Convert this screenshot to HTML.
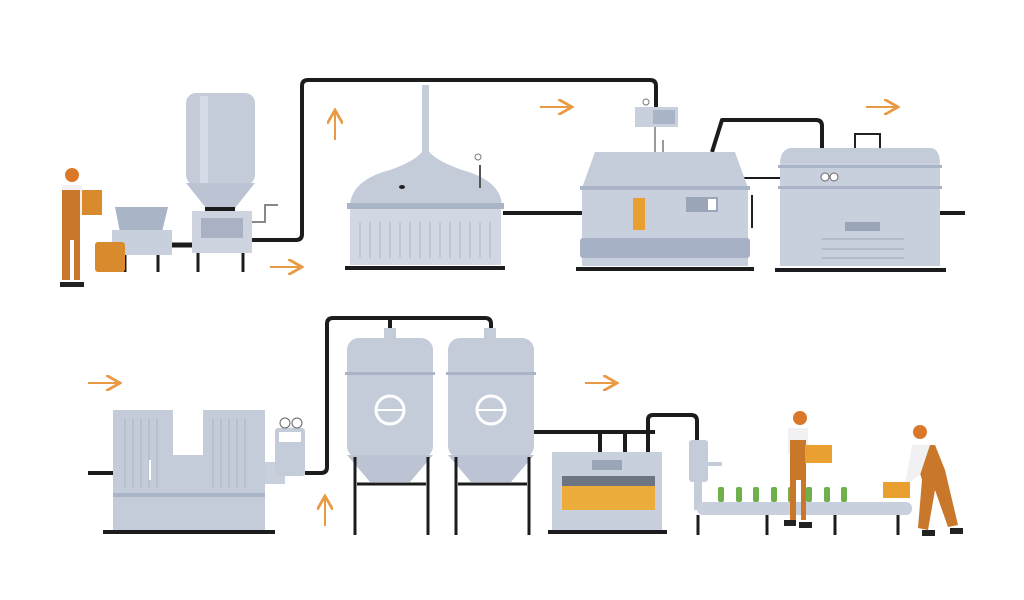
<!DOCTYPE html>
<html><head><meta charset="utf-8"><style>html,body{margin:0;padding:0;background:#fff}svg{display:block}</style></head><body>
<svg width="1024" height="600" viewBox="0 0 1024 600" xmlns="http://www.w3.org/2000/svg">
<defs>
<marker id="ah" markerWidth="8" markerHeight="8" refX="6" refY="4" orient="auto"><path d="M0,0 L7,4 L0,8" fill="none" stroke="#e89a45" stroke-width="1.4"/></marker>
</defs>
<rect width="1024" height="600" fill="#fff"/>
<g fill="none" stroke="#1c1c1e" stroke-width="4" stroke-linejoin="round">
<path d="M252,240 H296 Q302,240 302,234 V86 Q302,80 308,80 H650 Q656,80 656,86 V108"/>
<path d="M503,213 H583"/>
<path d="M712,152 L722,120 H816 Q822,120 822,126 V150"/>
<path d="M940,213 H965"/>
<path d="M88,473 H113"/>
<path d="M305,473 H321 Q327,473 327,467 V324 Q327,318 333,318 H485 Q491,318 491,324 V338"/>
<path d="M390,318 V338"/>
<path d="M533,432 H655"/>
<path d="M600,432 V452 M625,432 V452"/>
<path d="M648,452 V420 Q648,415 653,415 H691 Q697,415 697,421 V440"/>
</g>
<path d="M740,178 H782" stroke="#1c1c1e" stroke-width="2"/>
<g stroke="#e89a45" stroke-width="2" fill="none" marker-end="url(#ah)">
<path d="M270,267 H300"/><path d="M335,140 V112"/><path d="M540,107 H570"/><path d="M866,107 H896"/>
<path d="M88,383 H118"/><path d="M325,526 V498"/><path d="M585,383 H615"/>
</g>
<!-- floors -->
<g stroke="#1c1c1e" stroke-width="4">
<path d="M345,268 H505"/><path d="M576,269 H754"/><path d="M775,270 H946"/><path d="M103,532 H275"/><path d="M548,532 H667"/>
</g>
<!-- hopper small -->
<path d="M115,207 H168 L162,232 H120 Z" fill="#a9b4c7"/>
<rect x="112" y="230" width="60" height="25" fill="#c9d0dd"/>
<path d="M172,245 H192" stroke="#1c1c1e" stroke-width="5"/>
<g stroke="#1c1c1e" stroke-width="3"><path d="M125,255 V272 M158,255 V272 M198,253 V272 M243,253 V272"/></g>
<!-- silo -->
<rect x="186" y="93" width="69" height="92" rx="10" fill="#c4ccda"/>
<rect x="200" y="96" width="8" height="88" fill="#d6dce7"/>
<path d="M186,183 H255 L235,208 H206 Z" fill="#bcc4d3"/>
<rect x="205" y="207" width="30" height="4" fill="#1c1c1e"/>
<rect x="192" y="211" width="60" height="42" fill="#cdd3df"/>
<rect x="201" y="218" width="42" height="20" fill="#a8b2c4"/>
<path d="M252,222 H265 V205 H278" stroke="#888" stroke-width="2" fill="none"/>
<!-- worker 1 -->
<rect x="95" y="242" width="30" height="30" rx="3" fill="#d88a2c"/>
<circle cx="72" cy="175" r="7" fill="#d9782a"/>
<rect x="62" y="185" width="20" height="30" fill="#f1f1f3"/>
<path d="M62,190 H80 V280 H74 V240 H70 V280 H62 Z" fill="#c9772b"/>
<rect x="82" y="190" width="20" height="25" fill="#d88a2c"/>
<path d="M60,282 H72 V287 H60 Z M72,282 H84 V287 H72Z" fill="#222"/>
<!-- kettle -->
<rect x="422" y="85" width="7" height="70" fill="#c4ccda"/>
<path d="M350,205 Q352,180 390,170 Q418,160 423,150 H428 Q434,160 462,170 Q500,180 502,205 Z" fill="#c4ccda"/>
<rect x="347" y="203" width="157" height="6" fill="#a9b4c7"/>
<rect x="350" y="209" width="151" height="56" fill="#d2d8e3"/>
<g stroke="#b8c1d0" stroke-width="1.5"><path d="M360,222 V258 M370,222 V258 M380,222 V258 M390,222 V258 M400,222 V258 M410,222 V258 M420,222 V258 M430,222 V258 M440,222 V258 M450,222 V258 M460,222 V258 M470,222 V258 M480,222 V258 M490,222 V258"/></g>
<ellipse cx="402" cy="187" rx="3" ry="2" fill="#222"/>
<path d="M480,165 V188" stroke="#555" stroke-width="2"/><circle cx="478" cy="157" r="3" fill="none" stroke="#777"/>
<!-- mash tun -->
<rect x="635" y="107" width="43" height="20" fill="#c9d0dd"/><rect x="653" y="110" width="22" height="14" fill="#a9b4c7"/>
<circle cx="646" cy="102" r="3" fill="none" stroke="#777"/>
<path d="M655,127 V152 M663,140 V152" stroke="#999" stroke-width="2"/>
<path d="M595,152 H735 L748,188 H582 Z" fill="#c4ccda"/>
<rect x="582" y="186" width="166" height="80" fill="#c9d0dd"/>
<rect x="580" y="186" width="170" height="4" fill="#a9b4c7"/>
<rect x="580" y="238" width="170" height="20" rx="3" fill="#a6b1c5"/>
<rect x="633" y="198" width="12" height="32" fill="#e9a030"/>
<rect x="686" y="197" width="32" height="15" fill="#9aa5b8"/><rect x="708" y="199" width="8" height="11" fill="#fff"/>
<path d="M752,195 V228" stroke="#222" stroke-width="2"/>
<!-- last tank -->
<path d="M855,148 V134 H880 V148" fill="none" stroke="#222" stroke-width="2"/>
<path d="M790,148 H932 Q940,150 940,165 H780 Q780,150 790,148 Z" fill="#c4ccda"/>
<rect x="780" y="163" width="160" height="103" fill="#c9d0dd"/>
<rect x="778" y="165" width="164" height="3" fill="#a9b4c7"/><rect x="778" y="186" width="164" height="3" fill="#a9b4c7"/>
<circle cx="825" cy="177" r="4" fill="#fff" stroke="#666"/><circle cx="834" cy="177" r="4" fill="#fff" stroke="#666"/>
<rect x="845" y="222" width="35" height="9" fill="#9aa5b8"/>
<g stroke="#a9b4c7" stroke-width="1.5"><path d="M822,239 H904 M822,249 H904 M822,258 H904"/></g>
<!-- filter machine -->
<path d="M113,410 H173 V455 H203 V410 H265 V530 H113 Z" fill="#c4ccda"/>
<rect x="113" y="493" width="152" height="4" fill="#a9b4c7"/>
<g stroke="#b2bccc" stroke-width="1.5"><path d="M125,418 V488 M133,418 V488 M141,418 V488 M149,418 V488 M157,418 V488 M213,418 V488 M221,418 V488 M229,418 V488 M237,418 V488 M245,418 V488"/></g>
<path d="M150,460 V480" stroke="#fff" stroke-width="2"/>
<rect x="265" y="462" width="20" height="22" fill="#c9d0dd"/>
<rect x="275" y="428" width="30" height="48" rx="3" fill="#c4ccda"/>
<rect x="279" y="432" width="22" height="10" fill="#fff"/>
<circle cx="285" cy="423" r="5" fill="#fff" stroke="#666"/><circle cx="297" cy="423" r="5" fill="#fff" stroke="#666"/>
<!-- fermenters -->
<g>
<rect x="384" y="328" width="12" height="12" fill="#c4ccda"/><rect x="484" y="328" width="12" height="12" fill="#c4ccda"/>
<rect x="347" y="338" width="86" height="120" rx="12" fill="#c4ccda"/>
<path d="M347,455 H433 L410,482 H370 Z" fill="#bcc4d3"/>
<rect x="448" y="338" width="86" height="120" rx="12" fill="#c4ccda"/>
<path d="M448,455 H534 L511,482 H471 Z" fill="#bcc4d3"/>
<rect x="345" y="372" width="90" height="3" fill="#a9b4c7"/><rect x="446" y="372" width="90" height="3" fill="#a9b4c7"/>
<circle cx="390" cy="410" r="14" fill="none" stroke="#fff" stroke-width="3"/><path d="M377,410 H403" stroke="#fff" stroke-width="2"/>
<circle cx="491" cy="410" r="14" fill="none" stroke="#fff" stroke-width="3"/><path d="M478,410 H504" stroke="#fff" stroke-width="2"/>
<g stroke="#1c1c1e" stroke-width="3"><path d="M355,457 V535 M428,457 V535 M357,484 H426 M456,457 V535 M529,457 V535 M458,484 H527"/></g>
</g>
<!-- bottling box -->
<rect x="552" y="452" width="110" height="78" fill="#c9d0dd"/>
<rect x="592" y="460" width="30" height="10" fill="#9aa5b8"/>
<rect x="562" y="476" width="93" height="10" fill="#6d7482"/>
<rect x="562" y="486" width="93" height="24" fill="#ecac3c"/>
<!-- filler & conveyor -->
<rect x="689" y="440" width="19" height="42" rx="3" fill="#c4ccda"/>
<rect x="708" y="462" width="14" height="4" fill="#c4ccda"/>
<rect x="694" y="480" width="8" height="30" fill="#c4ccda"/>
<rect x="697" y="502" width="215" height="13" rx="6" fill="#c9d0dd"/>
<g stroke="#1c1c1e" stroke-width="3"><path d="M698,515 V535 M767,515 V535 M835,515 V535 M898,515 V535"/></g>
<g fill="#6fb04a">
<rect x="718" y="487" width="6" height="15" rx="2"/><rect x="736" y="487" width="6" height="15" rx="2"/><rect x="753" y="487" width="6" height="15" rx="2"/><rect x="771" y="487" width="6" height="15" rx="2"/><rect x="788" y="487" width="6" height="15" rx="2"/><rect x="806" y="487" width="6" height="15" rx="2"/><rect x="824" y="487" width="6" height="15" rx="2"/><rect x="841" y="487" width="6" height="15" rx="2"/>
</g>
<!-- worker 2 -->
<circle cx="800" cy="418" r="7" fill="#d9782a"/>
<rect x="788" y="428" width="20" height="26" fill="#f1f1f3"/>
<path d="M790,440 H806 V520 H801 V480 H796 V520 H790 Z" fill="#c9772b"/>
<rect x="805" y="445" width="27" height="18" fill="#e9a030"/>
<path d="M784,520 H796 V526 H784Z M799,522 H812 V528 H799Z" fill="#222"/>
<!-- worker 3 -->
<circle cx="920" cy="432" r="7" fill="#d9782a"/>
<path d="M912,445 L935,445 L945,470 L958,525 L948,527 L935,490 L928,530 L918,528 L922,480 Z" fill="#c9772b"/>
<path d="M912,445 L930,445 L920,475 L905,485 Z" fill="#f1f1f3"/>
<rect x="883" y="482" width="27" height="16" fill="#e9a030"/>
<path d="M922,530 H935 V536 H922Z M950,528 H963 V534 H950Z" fill="#222"/>
</svg>
</body></html>
